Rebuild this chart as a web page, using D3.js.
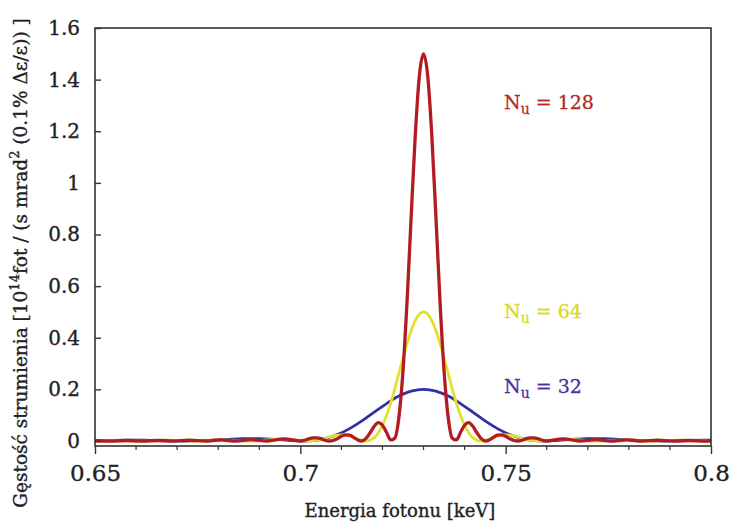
<!DOCTYPE html>
<html><head><meta charset="utf-8">
<script src="https://cdn.jsdelivr.net/npm/d3@7"></script>
<style>
html,body{margin:0;padding:0;background:#fff;}
svg{display:block;}
text{font-family:"DejaVu Serif",serif;fill:#222;stroke:#222;stroke-width:0.35px;}
</style></head>
<body>
<svg id="chart" width="732" height="525"></svg>
<script>
// ---- data ----
const xTicks = [0.65, 0.7, 0.75, 0.8];
const xTickLabels = ["0.65", "0.7", "0.75", "0.8"];
const yTicks = [0, 0.2, 0.4, 0.6, 0.8, 1, 1.2, 1.4, 1.6];
const yTickLabels = ["0", "0.2", "0.4", "0.6", "0.8", "1", "1.2", "1.4", "1.6"];

// N_u = 32 (blue)
const blueE = [0.650,0.654,0.658,0.662,0.668,0.672,0.674,0.678,0.682,0.686,0.690,0.694,0.698,0.701,0.703,0.706,0.709,0.712,0.715,0.718,0.721,0.724,0.727,0.730,0.733,0.736,0.739,0.742,0.745,0.748,0.751,0.754,0.757,0.759,0.762,0.766,0.770,0.774,0.778,0.782,0.786,0.788,0.792,0.798,0.800];
const blueV = [0.0013,0.0025,0.0033,0.0029,0.0008,0,0.0003,0.0023,0.0058,0.0088,0.0092,0.0062,0.0017,0,0.0015,0.009,0.025,0.048,0.078,0.112,0.145,0.174,0.193,0.2,0.193,0.174,0.145,0.112,0.078,0.048,0.025,0.009,0.0015,0,0.0017,0.0062,0.0092,0.0088,0.0058,0.0023,0.0003,0,0.0008,0.0029,0.0033];

// N_u = 64 (yellow)
const yellowE = [0.650,0.6533,0.660,0.6673,0.674,0.6814,0.688,0.690,0.692,0.694,0.696,0.698,0.700,0.702,0.704,0.706,0.708,0.710,0.712,0.714,0.716,0.718,0.720,0.722,0.724,0.726,0.728,0.730,0.732,0.734,0.736,0.738,0.740,0.742,0.744,0.746,0.748,0.750,0.752,0.754,0.756,0.758,0.760,0.762,0.764,0.766,0.768,0.770,0.772,0.7786,0.786,0.7927,0.800];
const yellowV = [0.001,0.002,0,0.003,0,0.004,0,0.001,0.004,0.007,0.008,0.006,0.002,0,0.003,0.011,0.020,0.024,0.019,0.007,0,0.013,0.061,0.147,0.262,0.379,0.467,0.5,0.467,0.379,0.262,0.147,0.061,0.013,0,0.007,0.019,0.024,0.020,0.011,0.003,0,0.002,0.006,0.008,0.007,0.004,0.001,0,0.004,0,0.003,0];

// N_u = 128 (red)
const redE = [0.650,0.654,0.6578,0.6616,0.6654,0.6692,0.673,0.6768,0.6806,0.6844,0.688,0.692,0.696,0.700,0.701,0.702,0.703,0.704,0.705,0.706,0.707,0.708,0.709,0.710,0.711,0.712,0.713,0.714,0.715,0.716,0.717,0.718,0.719,0.720,0.721,0.722,0.723,0.724,0.725,0.726,0.727,0.728,0.729,0.730,0.731,0.732,0.733,0.734,0.735,0.736,0.737,0.738,0.739,0.740,0.741,0.742,0.743,0.744,0.745,0.746,0.747,0.748,0.749,0.750,0.751,0.752,0.753,0.754,0.755,0.756,0.757,0.758,0.759,0.760,0.764,0.768,0.772,0.7756,0.7794,0.7832,0.787,0.7908,0.7946,0.7984,0.800];
const redV = [0.001,0,0.002,0,0.002,0,0.003,0,0.004,0,0.005,0,0.008,0,0.003,0.008,0.012,0.012,0.009,0.003,0,0.002,0.009,0.018,0.024,0.023,0.014,0.004,0,0.010,0.032,0.057,0.071,0.061,0.033,0.004,0.011,0.092,0.272,0.545,0.873,1.188,1.417,1.5,1.417,1.188,0.873,0.545,0.272,0.092,0.011,0.004,0.033,0.061,0.071,0.057,0.032,0.010,0,0.004,0.014,0.023,0.024,0.018,0.009,0.002,0,0.003,0.009,0.012,0.012,0.008,0.003,0,0.008,0,0.005,0,0.004,0,0.003,0,0.002,0,0.001];

const seriesLabels = ["32", "64", "128"];
// ---- drawing ----
const svg = d3.select("#chart");
const L = 95, R = 711, T = 28, B = 446;
const x = d3.scaleLinear().domain([0.65, 0.80]).range([L, R]);
const y = d3.scaleLinear().domain([0, 1.6]).range([441, 28]);

const series = [
  {E: blueE, V: blueV, color: "#3030a8", w: 2.8},
  {E: yellowE, V: yellowV, color: "#e2e02c", w: 2.8},
  {E: redE, V: redV, color: "#b01c22", w: 3.3}
];
const line = d3.line().x(d => x(d[0])).y(d => y(d[1])).curve(d3.curveMonotoneX);
svg.append("clipPath").attr("id","clip").append("rect")
  .attr("x", L).attr("y", T).attr("width", R-L).attr("height", B-T);
const g = svg.append("g").attr("clip-path","url(#clip)");
series.forEach(s => {
  g.append("path").datum(d3.zip(s.E, s.V))
    .attr("d", line).attr("fill","none")
    .attr("stroke", s.color).attr("stroke-width", s.w)
    .attr("stroke-linejoin","round");
});

// frame
svg.append("rect").attr("x", L).attr("y", T).attr("width", R-L).attr("height", B-T)
  .attr("fill","none").attr("stroke","#333").attr("stroke-width",1.6);

// x axis (ticks outward)
const xAxis = d3.axisBottom(x).tickValues(xTicks).tickFormat((d,i)=>xTickLabels[i]).tickSize(8).tickPadding(11);
const gx = svg.append("g").attr("transform",`translate(0,${B})`).call(xAxis);
gx.select(".domain").remove();
gx.selectAll(".tick line").attr("stroke","#333").attr("stroke-width",1.4);
gx.selectAll("text").style("font-family","DejaVu Serif").style("font-size","23px").attr("fill","#222");
const minor = d3.range(0.66, 0.80, 0.01).filter(v => !xTicks.some(t => Math.abs(t - v) < 1e-6));
svg.append("g").selectAll("line").data(minor).join("line")
  .attr("x1", d=>x(d)).attr("x2", d=>x(d)).attr("y1", B).attr("y2", B+4)
  .attr("stroke","#333").attr("stroke-width",1.2);

// y axis (ticks inward)
const yAxis = d3.axisLeft(y).tickValues(yTicks).tickFormat((d,i)=>yTickLabels[i]).tickSize(-6).tickPadding(15);
const gy = svg.append("g").attr("transform",`translate(${L},0)`).call(yAxis);
gy.select(".domain").remove();
gy.selectAll(".tick line").attr("stroke","#333").attr("stroke-width",1.4);
gy.selectAll("text").style("font-family","DejaVu Serif").style("font-size","20px").attr("fill","#222");

// axis titles
svg.append("text").attr("x", 400).attr("y", 517).attr("text-anchor","middle")
  .style("font-size","18px").text("Energia fotonu [keV]");
const yt = svg.append("text").attr("transform","translate(27,263) rotate(-90)")
  .attr("text-anchor","middle").style("font-size","18.5px");
yt.append("tspan").text("Gęstość strumienia [10");
yt.append("tspan").attr("dy",-8).style("font-size","13px").text("14");
yt.append("tspan").attr("dy",8).text("fot / (s mrad");
yt.append("tspan").attr("dy",-8).style("font-size","13px").text("2");
yt.append("tspan").attr("dy",8).text(" (0.1% Δε/ε)) ]");

// series labels
const labs = [
  {t: seriesLabels[2], x: 504, y: 109, c: "#b02a2a"},
  {t: seriesLabels[1], x: 504, y: 318, c: "#d8d824"},
  {t: seriesLabels[0], x: 504, y: 393, c: "#4a2f9e"}
];
labs.forEach(l => {
  const t = svg.append("text").attr("x", l.x).attr("y", l.y).style("font-size","19px")
    .style("fill", l.c).style("stroke", l.c).style("stroke-width","0.3px");
  t.append("tspan").text("N");
  t.append("tspan").attr("dy",5).style("font-size","14px").text("u");
  t.append("tspan").attr("dy",-5).text(" = " + l.t);
});
</script>
</body></html>
